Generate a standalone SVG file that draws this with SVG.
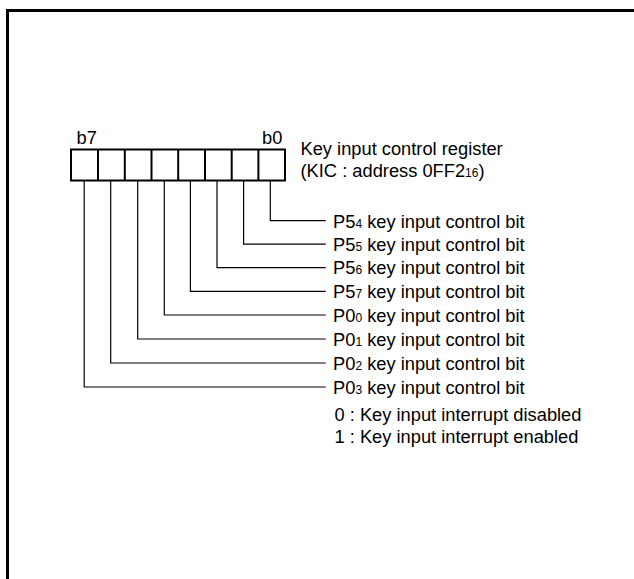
<svg xmlns="http://www.w3.org/2000/svg" width="634" height="579" viewBox="0 0 634 579">
<style>
text{font-family:"Liberation Sans",Arial,sans-serif;font-size:18.3px;fill:#000}
.sub{font-size:12px}
.frame{fill:none;stroke:#000;stroke-width:3}
.reg{fill:#fff;stroke:#000;stroke-width:2}
.div{stroke:#000;stroke-width:2}
.conn{fill:none;stroke:#000;stroke-width:1.2}
</style>
<rect width="634" height="579" fill="#fff"/>
<path class="frame" d="M7.5,579 V10.5 H634"/>
<g id="register">
<rect class="reg" x="71" y="149.5" width="214" height="31"/>
<path class="div" d="M98,149.5V180.5M124.8,149.5V180.5M151.5,149.5V180.5M178.2,149.5V180.5M205,149.5V180.5M231.7,149.5V180.5M258.4,149.5V180.5"/>
<text x="76.5" y="144">b7</text>
<text x="262" y="144">b0</text>
</g>
<g id="title">
<text x="300.5" y="155">Key input control register</text>
<text x="300.5" y="176.7">(KIC : address 0FF2<tspan class="sub">16</tspan>)</text>
</g>
<g id="connectors">
<path class="conn" d="M270.3,180.5V220.7H325.7"/>
<path class="conn" d="M243.6,180.5V244.2H325.7"/>
<path class="conn" d="M217,180.5V267.6H325.7"/>
<path class="conn" d="M190.4,180.5V291.3H325.7"/>
<path class="conn" d="M164.3,180.5V315H325.7"/>
<path class="conn" d="M137.7,180.5V339H325.7"/>
<path class="conn" d="M110.7,180.5V363H325.7"/>
<path class="conn" d="M84.2,180.5V387H325.7"/>
</g>
<g id="bits">
<text x="333" y="227.7">P5<tspan class="sub">4</tspan> key input control bit</text>
<text x="333" y="251">P5<tspan class="sub">5</tspan> key input control bit</text>
<text x="333" y="274.4">P5<tspan class="sub">6</tspan> key input control bit</text>
<text x="333" y="298">P5<tspan class="sub">7</tspan> key input control bit</text>
<text x="333" y="322">P0<tspan class="sub">0</tspan> key input control bit</text>
<text x="333" y="346">P0<tspan class="sub">1</tspan> key input control bit</text>
<text x="333" y="370">P0<tspan class="sub">2</tspan> key input control bit</text>
<text x="333" y="394">P0<tspan class="sub">3</tspan> key input control bit</text>
</g>
<g id="legend">
<text x="334.5" y="421">0 : Key input interrupt disabled</text>
<text x="334.5" y="442.5">1 : Key input interrupt enabled</text>
</g>
</svg>
